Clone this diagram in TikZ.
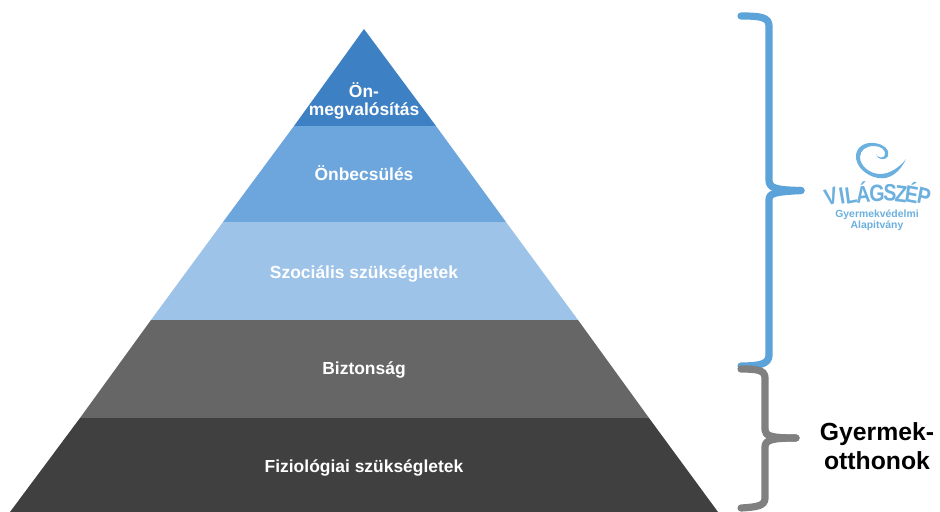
\documentclass[tikz,border=0pt]{standalone}
\usepackage{fontspec}
\setmainfont{Liberation Sans}
\colorlet{background}{white}
\definecolor{layerOne}{HTML}{3D80C4}
\definecolor{layerTwo}{HTML}{6CA6DC}
\definecolor{layerThree}{HTML}{9DC3E8}
\definecolor{layerFour}{HTML}{666666}
\definecolor{layerFive}{HTML}{404040}
\definecolor{penColor}{HTML}{5BA3D9}
\definecolor{penColor2}{HTML}{808080}
\definecolor{logoColor}{HTML}{6BB0DE}
\tikzset{
	layerlabel/.style={text=white,font=\bfseries\fontsize{12.4}{13.2}\selectfont,align=center,inner sep=0pt},
	bracket/.style={line width=.18cm,line cap=round,line join=round},
	logoletter/.style={text=logoColor,font=\bfseries\fontsize{14}{14}\selectfont,inner sep=0pt,yscale=1.2},
}
\begin{document}
\begin{tikzpicture}[x=.025cm,y=-.025cm]
				\useasboundingbox[fill=background] (0,0) rectangle (940,512);
				\coordinate (T) at (364,29);
				\coordinate (A1) at (294,126);
				\coordinate (B1) at (436,126);
				\coordinate (A2) at (223,222);
				\coordinate (B2) at (506,222);
				\coordinate (A3) at (151,320);
				\coordinate (B3) at (578,320);
				\coordinate (A4) at (80,418);
				\coordinate (B4) at (649,418);
				\coordinate (A5) at (10,512);
				\coordinate (B5) at (718,512);
				\fill[layerOne] (T)--(B1)--(A1)--cycle;
				\fill[layerTwo] (A1)--(B1)--(B2)--(A2)--cycle;
				\fill[layerThree] (A2)--(B2)--(B3)--(A3)--cycle;
				\fill[layerFour] (A3)--(B3)--(B4)--(A4)--cycle;
				\fill[layerFive] (A4)--(B4)--(B5)--(A5)--cycle;
				\node[layerlabel] (onmeg) at (364,101) {Ön-\\megvalósítás};
				\node[layerlabel] (onbecs) at (364,173) {Önbecsülés};
				\node[layerlabel] (szoc) at (364,274) {Szociális szükségletek};
				\node[layerlabel] (bizt) at (364,370) {Biztonság};
				\node[layerlabel] (fiz) at (364,468) {Fiziológiai szükségletek};
				% blue bracket
				\draw[bracket,penColor] (741,16) .. controls (760,16) and (769,17) .. (769,26) -- (769,180)
					.. controls (769,188) and (775,190) .. (801,190.5);
				\draw[bracket,penColor] (801,190.5) .. controls (775,192) and (769,193) .. (769,200) -- (769,355)
					.. controls (769,364) and (760,366) .. (741,366);
				% gray bracket
				\draw[bracket,penColor2] (741,369) .. controls (757,369) and (765,370) .. (765,378) -- (765,430)
					.. controls (765,436) and (772,438) .. (796,438);
				\draw[bracket,penColor2] (796,438) .. controls (772,438) and (765,440) .. (765,447) -- (765,498)
					.. controls (765,506) and (757,507) .. (741,508);
				\node[font=\bfseries\fontsize{17.6}{21}\selectfont,align=center,inner sep=0pt] (otthon) at (877,446) {Gyermek-\\otthonok};
				% logo
				\fill[logoColor] (906,159) .. controls (900,172) and (890,180) .. (878,178)
					.. controls (866,176) and (855,166) .. (856,155)
					.. controls (857,146) and (866,142) .. (874,143)
					.. controls (884,144) and (890,150) .. (888,156)
					.. controls (886,161) and (877,160) .. (876,154)
					.. controls (877,158) and (884,159) .. (885,155)
					.. controls (886,150) and (881,146) .. (874,146)
					.. controls (866,146) and (860,150) .. (860,157)
					.. controls (860,166) and (870,174) .. (880,174)
					.. controls (890,174) and (900,167) .. (906,159) -- cycle;
				\foreach \ltr/\xx/\yy/\rr [count=\i] in {V/831/197/15,I/842/196/12,L/851/195/9,Á/863/192/5,G/877/193/0,S/890/193/-3,Z/901/194/-6,É/912/192/-9,P/924/196/-13}
					\node[logoletter,rotate=\rr] (letter\i) at (\xx,\yy) {\ltr};
				\node[text=logoColor,font=\bfseries\fontsize{7.4}{7.8}\selectfont,align=center,inner sep=0pt] (alap) at (877,220.5) {Gyermekvédelmi\\Alapitvány};
				\end{tikzpicture}
\end{document}
